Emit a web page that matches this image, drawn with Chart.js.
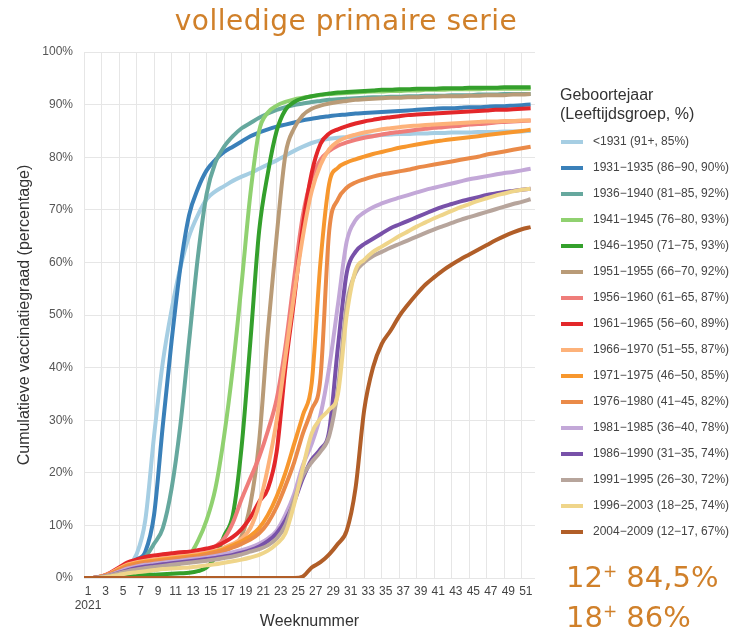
<!DOCTYPE html>
<html>
<head>
<meta charset="utf-8">
<script src="https://cdn.jsdelivr.net/npm/chart.js@4.4.1/dist/chart.umd.min.js"></script>
<style>
  body { margin: 0; background: #fff; }
  #wrap { position: relative; width: 733px; height: 631px; overflow: hidden; }
  #chart { position: absolute; left: 0; top: 0; }
  #title { position: absolute; left: 0; width: 692px; top: 4px; text-align: center;
           font: 28px 'DejaVu Sans', Verdana, sans-serif; letter-spacing: 0.5px; color: #d0802a; }
  #legendTitle { position: absolute; left: 560px; top: 85px; font: 16px 'Liberation Sans', Arial, sans-serif;
                 line-height: 19px; color: #333; }
  #legend { position: absolute; left: 561px; top: 128px; font: 12px 'Liberation Sans', Arial, sans-serif; color: #444; }
  #legend .item { height: 26px; line-height: 26px; white-space: nowrap; }
  #legend .swatch { display: inline-block; width: 22px; height: 4px; vertical-align: middle; margin-right: 10px; }
  #note { position: absolute; left: 566px; top: 559px; font: 29px 'DejaVu Sans', Verdana, sans-serif;
          line-height: 36px; color: #d0802a; }
  #note .sup { font-size: 17px; position: relative; top: -10px; }
</style>
</head>
<body>
<div id="wrap">
  <canvas id="chart" width="733" height="631"></canvas>
  <div id="title">volledige primaire serie</div>
  <div id="legendTitle">Geboortejaar<br>(Leeftijdsgroep, %)</div>
  <div id="legend"></div>
  <div id="note">12<span class="sup">+</span> 84,5%<br>18<span class="sup">+</span> 86%</div>
</div>
<script>
// weeks of 2021
const weeks = [1,2,3,4,5,6,7,8,9,10,11,12,13,14,15,16,17,18,19,20,21,22,23,24,25,26,
  27,28,29,30,31,32,33,34,35,36,37,38,39,40,41,42,43,44,45,46,47,48,49,50,51,52];
const weekTicks = [1,3,5,7,9,11,13,15,17,19,21,23,25,27,29,31,33,35,37,39,41,43,45,47,49,51];

const seriesLabels = [
  '<1931 (91+, 85%)', '1931\u22121935 (86\u221290, 90%)', '1936\u22121940 (81\u221285, 92%)',
  '1941\u22121945 (76\u221280, 93%)', '1946\u22121950 (71\u221275, 93%)', '1951\u22121955 (66\u221270, 92%)',
  '1956\u22121960 (61\u221265, 87%)', '1961\u22121965 (56\u221260, 89%)', '1966\u22121970 (51\u221255, 87%)',
  '1971\u22121975 (46\u221250, 85%)', '1976\u22121980 (41\u221245, 82%)', '1981\u22121985 (36\u221240, 78%)',
  '1986\u22121990 (31\u221235, 74%)', '1991\u22121995 (26\u221230, 72%)', '1996\u22122003 (18\u221225, 74%)',
  '2004\u22122009 (12\u221217, 67%)'
];

// cumulative % per week
const g_pre1931 = [0,0,0.2,0.6,1.2,2.2,4.5,11,27,41,51,59,65,69,72,73.5,74.5,75.5,76.3,77,77.8,78.6,79.4,80.3,81.2,82,
  82.7,83.2,83.5,83.7,83.8,83.9,84,84.1,84.2,84.3,84.4,84.4,84.5,84.5,84.6,84.6,84.7,84.7,84.7,84.8,84.8,84.8,84.9,84.9,84.9,85];
const g_1931 = [0,0,0.2,0.6,1.2,2.2,3.5,5,12,29,45,59,69,74,77.5,79.5,81,82,83,84,84.7,85.3,85.8,86.2,86.6,87,
  87.3,87.6,87.8,88,88.1,88.3,88.4,88.5,88.6,88.7,88.8,88.9,89,89.1,89.2,89.3,89.3,89.4,89.5,89.5,89.6,89.7,89.7,89.8,89.9,90];
const g_1936 = [0,0,0.2,0.6,1.2,2,3,4,6.5,9.5,17,29,45,61,73,79,82,84,85.5,86.5,87.5,88.3,89,89.5,89.9,90.2,
  90.5,90.7,90.9,91,91.1,91.2,91.3,91.4,91.4,91.5,91.5,91.6,91.6,91.7,91.7,91.7,91.8,91.8,91.8,91.9,91.9,91.9,92,92,92,92];
const g_1941 = [0,0,0,0.2,0.4,0.6,0.9,1.2,1.5,1.8,2.2,2.8,4.2,7,11,17,27,40,56,73,85,88.5,89.8,90.5,91,91.3,
  91.6,91.8,92,92.1,92.2,92.3,92.4,92.5,92.5,92.6,92.6,92.7,92.7,92.8,92.8,92.8,92.9,92.9,92.9,92.9,93,93,93,93,93,93];
const g_1946 = [0,0,0,0.1,0.2,0.3,0.4,0.5,0.6,0.7,0.8,0.9,1,1.3,2,4,8,12,25,45,66,77,85,89,90.5,91.2,
  91.6,91.9,92.1,92.3,92.4,92.5,92.6,92.7,92.8,92.8,92.9,92.9,93,93,93,93.1,93.1,93.1,93.2,93.2,93.2,93.2,93.3,93.3,93.3,93.3];
const g_1951 = [0,0,0.2,0.6,1.2,2,2.6,3,3.2,3.4,3.6,3.8,4,4.2,4.5,4.8,5.2,6,8,14,26,47,65,80.5,85.5,88,
  89.2,89.8,90.2,90.5,90.7,90.9,91,91.1,91.2,91.3,91.3,91.4,91.4,91.5,91.5,91.6,91.6,91.6,91.7,91.7,91.8,91.8,91.8,91.9,91.9,92];
const g_1956 = [0,0,0.3,0.8,1.6,2.6,3.2,3.6,3.9,4.1,4.3,4.5,4.7,5,5.4,6,7.5,10.5,15,19,23,28,34,44,57,69,
  76,79.5,81.2,82.2,82.8,83.3,83.7,84,84.3,84.6,84.8,85,85.2,85.4,85.6,85.7,85.9,86,86.2,86.3,86.4,86.6,86.7,86.8,86.9,87];
const g_1961 = [0,0,0.3,1,2,3,3.5,4,4.3,4.5,4.7,4.9,5,5.3,5.6,6,6.8,7.8,9.3,11.5,14.5,17,24,40,53,67,
  77,82.5,84.5,85.3,85.9,86.4,86.8,87.1,87.4,87.6,87.8,88,88.1,88.2,88.3,88.4,88.5,88.6,88.7,88.8,88.9,89,89,89.1,89.2,89.3];
const g_1966 = [0,0,0.3,0.9,1.8,2.6,3,3.3,3.5,3.7,3.9,4.1,4.3,4.5,4.8,5.2,5.8,6.5,7.5,9.5,14,21,30,42,54,65,
  73.5,78.5,81.5,83,83.8,84.3,84.7,85,85.3,85.5,85.7,85.9,86,86.1,86.2,86.3,86.4,86.5,86.6,86.7,86.8,86.8,86.9,86.9,87,87];
const g_1971 = [0,0,0.3,0.8,1.6,2.4,2.8,3.1,3.3,3.5,3.7,3.9,4.1,4.3,4.6,5,5.5,6.2,7,8,9.5,12,15.5,20,25.5,31,
  37,60,75,78,79,79.6,80.1,80.6,81,81.4,81.8,82.1,82.4,82.7,83,83.2,83.4,83.6,83.8,84,84.2,84.4,84.6,84.8,85,85.2];
const g_1976 = [0,0,0.3,0.8,1.5,2.2,2.6,2.9,3.1,3.3,3.5,3.7,3.9,4.1,4.4,4.8,5.2,5.8,6.5,7.3,8.5,10.5,13.5,17.5,22,27.5,
  32,38,66,72,74.2,75.2,75.8,76.3,76.7,77,77.3,77.6,78,78.3,78.6,78.9,79.2,79.5,79.8,80.1,80.5,80.8,81.1,81.4,81.7,82];
const g_1981 = [0,0,0.2,0.6,1.2,1.8,2.2,2.5,2.7,2.9,3.1,3.3,3.5,3.7,3.9,4.2,4.5,4.9,5.3,5.8,6.5,7.5,9,12,16,21.5,
  25.5,31,40,52,64,68,69.5,70.5,71.2,71.8,72.3,72.8,73.3,73.8,74.2,74.6,75,75.4,75.8,76.1,76.4,76.7,77,77.2,77.5,77.8];
const g_1986 = [0,0,0.2,0.5,1,1.5,1.9,2.2,2.4,2.6,2.8,3,3.2,3.4,3.6,3.8,4.1,4.4,4.8,5.3,6,7,8.5,11,14.5,19,
  22.5,24.5,28,44,58,62,63.5,64.5,65.5,66.5,67.2,67.9,68.6,69.3,70,70.6,71.1,71.6,72,72.4,72.8,73.1,73.4,73.6,73.8,74];
const g_1991 = [0,0,0.2,0.5,0.9,1.3,1.6,1.9,2.1,2.3,2.5,2.7,2.9,3.1,3.3,3.5,3.8,4.1,4.5,5,5.5,6.2,7.5,10,15,19.5,
  22,24,27,36,52,58,60,61.2,62,62.8,63.5,64.2,64.9,65.6,66.3,66.9,67.5,68.1,68.6,69.1,69.6,70.1,70.6,71.1,71.5,72];
const g_1996 = [0,0,0.1,0.3,0.6,0.9,1.1,1.3,1.5,1.7,1.8,1.9,2,2.2,2.4,2.6,2.9,3.2,3.5,3.9,4.4,5.2,6.5,8.5,14,21,
  27.5,30.3,32,35,50,58.5,60.5,62,63,64,65,65.9,66.8,67.6,68.4,69.1,69.8,70.5,71.1,71.7,72.2,72.7,73.1,73.5,73.8,74];
const g_2004 = [0,0,0,0,0,0,0,0,0,0,0,0,0,0,0,0,0,0,0,0,0,0,0,0,0,0.3,
  2,3,4.5,6.5,9,17,32,40,44.5,47,49.8,52,54,55.8,57.2,58.5,59.6,60.6,61.5,62.4,63.3,64.2,65,65.7,66.3,66.7];

const seriesValues = [g_pre1931, g_1931, g_1936, g_1941, g_1946, g_1951, g_1956, g_1961,
  g_1966, g_1971, g_1976, g_1981, g_1986, g_1991, g_1996, g_2004];

const colors = ['#a6cee3', '#3a80b9', '#66a89e', '#90d170', '#34a02c', '#b99b77', '#ef7d7a', '#e3272a',
  '#fdb27a', '#f7972e', '#ea8a48', '#c3a8d8', '#7851a9', '#b7a59c', '#efd58a', '#b15e28'];

Chart.defaults.font.family = "'Liberation Sans', Arial, sans-serif";

const datasets = seriesLabels.map((label, i) => ({
  label: label,
  data: weeks.map((w, j) => ({ x: w, y: seriesValues[i][j] })),
  borderColor: colors[i],
  backgroundColor: colors[i],
  borderWidth: 4,
  pointRadius: 0,
  fill: false,
  cubicInterpolationMode: 'monotone',
  order: seriesLabels.length - i  // later groups on top
}));

const ctx = document.getElementById('chart').getContext('2d');
const chart = new Chart(ctx, {
  type: 'line',
  data: { datasets: datasets },
  options: {
    responsive: false,
    animation: false,
    layout: { padding: { left: 0, top: 52, right: 198, bottom: 0 } },
    plugins: {
      legend: { display: false },
      tooltip: { enabled: false }
    },
    scales: {
      x: {
        type: 'linear',
        min: 1,
        max: 52.5,
        afterBuildTicks: s => { s.ticks = weekTicks.map(v => ({ value: v })); },
        afterFit: s => { s.height = 53; },
        grid: { color: '#e6e6e6', drawTicks: false },
        border: { display: false },
        ticks: {
          padding: 6,
          labelOffset: 4,
          maxRotation: 0,
          autoSkip: false,
          color: '#444',
          font: { size: 12 },
          callback: v => v === 1 ? ['1', '2021'] : String(v)
        },
        title: {
          display: true,
          text: 'Weeknummer',
          color: '#333',
          font: { size: 16 },
          padding: { top: 0, bottom: 0 }
        }
      },
      y: {
        min: 0,
        max: 100,
        afterFit: s => { s.width = 84; },
        grid: { color: '#e6e6e6', drawTicks: false },
        border: { display: false },
        ticks: {
          stepSize: 10,
          padding: 11,
          color: '#555',
          font: { size: 12 },
          callback: v => v + '%'
        },
        title: {
          display: true,
          text: 'Cumulatieve vaccinatiegraad (percentage)',
          color: '#333',
          font: { size: 16 },
          padding: { top: 15, bottom: 4 }
        }
      }
    }
  }
});

// HTML legend built from the chart's datasets
const legendEl = document.getElementById('legend');
chart.data.datasets.forEach(ds => {
  const row = document.createElement('div');
  row.className = 'item';
  const sw = document.createElement('span');
  sw.className = 'swatch';
  sw.style.background = ds.borderColor;
  row.appendChild(sw);
  row.appendChild(document.createTextNode(ds.label));
  legendEl.appendChild(row);
});
</script>
</body>
</html>
